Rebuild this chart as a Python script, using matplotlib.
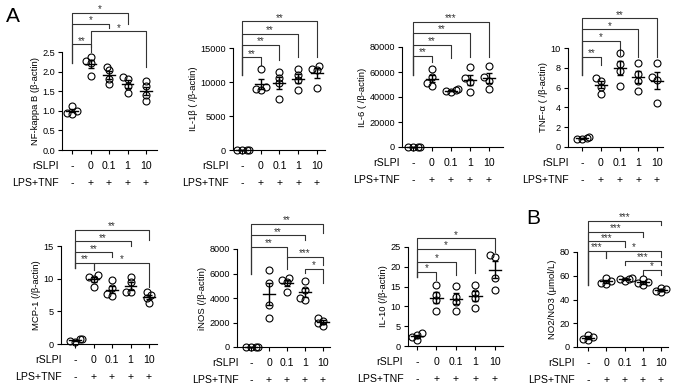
import matplotlib
matplotlib.use("Agg")
import matplotlib.pyplot as plt
import numpy as np

plt.rcParams['font.family'] = ['Liberation Sans', 'DejaVu Sans']

# x categories
rslpi = ['-', '0', '0.1', '1', '10']
lps_tnf = ['-', '+', '+', '+', '+']

# values per group (4 replicates each)
nfkb = [[0.93, 0.95, 1.0, 1.12], [2.37, 2.28, 2.22, 1.88], [2.13, 2.03, 1.82, 1.68],
        [1.86, 1.80, 1.62, 1.45], [1.75, 1.62, 1.41, 1.24]]
il1b = [[0, 0, 0, 0], [11950, 9200, 8800, 8900], [11480, 10650, 9870, 7430],
        [11870, 10990, 10260, 8890], [12400, 11900, 11800, 9100]]
il6 = [[0, 0, 0, 0], [62500, 56400, 51000, 49100], [46500, 45500, 44500, 44000],
       [64000, 55000, 52000, 44000], [65000, 56000, 53000, 46500]]
tnfa = [[0.8, 0.85, 0.9, 1.0], [7.0, 6.7, 6.1, 5.4], [9.5, 8.4, 7.7, 6.2],
        [8.5, 7.4, 6.7, 5.7], [8.5, 7.1, 6.8, 4.4]]
mcp1 = [[0.3, 0.5, 0.7, 0.8], [10.6, 10.2, 10.0, 8.8], [9.8, 8.6, 7.6, 7.3],
        [10.3, 9.5, 8.0, 7.9], [8.0, 7.5, 7.0, 6.3]]
inos = [[0, 0, 0, 0], [6250, 5200, 3450, 2400], [5650, 5450, 5300, 4500],
        [5400, 4650, 4000, 3850], [2350, 2150, 1950, 1700]]
il10 = [[3.3, 2.8, 2.2, 1.5], [15.4, 13.0, 11.6, 8.9], [15.2, 12.5, 11.2, 8.8],
        [15.4, 13.3, 12.0, 9.5], [23.0, 22.6, 17.1, 14.2]]
no2no3 = [[10.5, 8.5, 7.0, 6.0], [58.5, 55.5, 54.0, 53.0], [58.5, 57.5, 57.0, 56.0],
          [57.0, 55.0, 54.0, 52.0], [50.0, 48.5, 47.5, 46.0]]

# significance comparisons (group i, group j, stars)
nfkb_sig = [(0, 3, '*'), (0, 2, '*'), (1, 4, '*'), (0, 1, '**')]
il1b_sig = [(0, 4, '**'), (0, 3, '**'), (0, 2, '**'), (0, 1, '**')]
il6_sig = [(0, 4, '***'), (0, 3, '**'), (0, 2, '**'), (0, 1, '**')]
tnfa_sig = [(0, 4, '**'), (0, 3, '*'), (0, 2, '*'), (0, 1, '**')]
mcp1_sig = [(0, 4, '**'), (0, 3, '**'), (0, 2, '**'), (0, 1, '**'), (1, 4, '*')]
inos_sig = [(0, 4, '**'), (0, 3, '**'), (0, 2, '**'), (2, 4, '***'), (3, 4, '*')]
il10_sig = [(0, 4, '*'), (0, 3, '*'), (0, 2, '*'), (0, 1, '*')]
no_sig = [(0, 4, '***'), (0, 3, '***'), (0, 2, '***'), (0, 1, '***'),
          (1, 4, '*'), (2, 4, '***'), (3, 4, '*')]

W, H = 676, 387
fig = plt.figure(figsize=(W / 100, H / 100), dpi=100)

# panel layout: data, sig, ylabel, yticks, fmt, box (px: left, right, top, bottom), xlim, bracket geometry
panels = [
    (nfkb, nfkb_sig, 'NF-kappa B (β-actin)', [0, 0.5, 1.0, 1.5, 2.0, 2.5], '{:.1f}',
     (62, 157, 52, 150), (-0.54, 4.59),
     [(1.40, 0.89, 1.29), (1.29, 0.89, 1.24), (1.21, 1.05, 0.85), (1.08, 0.89, 1.00)]),
    (il1b, il1b_sig, 'IL-1β ( /β-actin)', [0, 5000, 10000, 15000], '{:.0f}',
     (233, 325, 48, 150), (-0.48, 4.43),
     [(1.26, 0.735, 0.915), (1.14, 0.735, 0.915), (1.03, 0.735, 0.88), (0.91, 0.735, 0.83)]),
    (il6, il6_sig, 'IL-6 ( /β-actin)', [0, 20000, 40000, 60000, 80000], '{:.0f}',
     (402, 503, 47, 147), (-0.58, 4.74),
     [(1.25, 0.72, 0.9), (1.14, 0.72, 0.9), (1.02, 0.72, 0.89), (0.91, 0.72, 0.85)]),
    (tnfa, tnfa_sig, 'TNF-α ( /β-actin)', [0, 2, 4, 6, 8, 10], '{:.0f}',
     (568, 663, 48, 147), (-0.75, 4.32),
     [(1.30, 0.73, 0.91), (1.19, 0.73, 0.91), (1.07, 0.73, 0.93), (0.91, 0.73, 0.83)]),
    (mcp1, mcp1_sig, 'MCP-1 (/β-actin)', [0, 5, 10, 15], '{:.0f}',
     (61, 157, 246, 344), (-0.76, 4.43),
     [(1.163, 0.78, 1.06), (1.05, 0.78, 1.0), (0.936, 0.78, 0.885), (0.83, 0.78, 0.755),
      (0.83, 0.755, 0.585)]),
    (inos, inos_sig, 'iNOS (/β-actin)', [0, 2000, 4000, 6000, 8000], '{:.0f}',
     (237, 330, 249, 347), (-0.78, 4.39),
     [(1.26, 0.75, 1.16), (1.14, 0.75, 1.09), (1.02, 0.75, 0.905), (0.92, 0.80, 0.84),
      (0.80, 0.76, 0.65)]),
    (il10, il10_sig, 'IL-10 (/β-actin)', [0, 5, 10, 15, 20, 25], '{:.0f}',
     (408, 503, 247, 346), (-0.46, 4.41),
     [(1.09, 0.70, 0.95), (0.98, 0.70, 0.74), (0.85, 0.70, 0.72), (0.75, 0.70, 0.67)]),
    (no2no3, no_sig, 'NO2/NO3 (μmol/L)', [0, 20, 40, 60, 80], '{:.0f}',
     (577, 668, 252, 347), (-0.60, 4.38),
     [(1.33, 0.65, 1.28), (1.21, 0.65, 1.16), (1.115, 0.65, 1.056), (1.01, 0.65, 0.94),
      (1.01, 0.94, 0.95), (0.91, 0.86, 0.86), (0.81, 0.76, 0.76)]),
]

LW = 0.8
FS_ROW = 7.6
for data, sig, ylab, yticks, fmt, box, xlim, geom in panels:
    l, r, t, b = box
    ax = fig.add_axes([l / W, 1 - b / H, (r - l) / W, (b - t) / H])
    ax.set_xlim(*xlim)
    ax.set_ylim(0, yticks[-1])
    for s in ['top', 'right']:
        ax.spines[s].set_visible(False)
    ax.spines['left'].set_linewidth(LW)
    ax.spines['bottom'].set_linewidth(LW)
    ax.set_yticks(yticks)
    ax.set_yticklabels([fmt.format(v) for v in yticks], fontsize=6.6)
    ax.set_xticks(range(len(rslpi)))
    ax.set_xticklabels([])
    ax.tick_params(width=LW, length=3, pad=2)
    ax.set_ylabel(ylab, fontsize=6.8, labelpad=2)

    # px per data unit, for spreading overlapping points
    xpx = (r - l) / (xlim[1] - xlim[0])
    ypx = (b - t) / yticks[-1]
    for i, vals in enumerate(data):
        vals = np.array(vals, dtype=float)
        order = np.argsort(vals)
        placed = []
        xs = np.zeros(len(vals))
        for k in order:
            for off in [0, -0.13, 0.13, -0.26, 0.26, -0.39, 0.39]:
                ok = all(np.hypot((off - po) * xpx, (vals[k] - pv) * ypx) >= 4.6
                         for po, pv in placed)
                if ok:
                    break
            placed.append((off, vals[k]))
            xs[k] = i + off
        ax.plot(xs, vals, 'o', ms=5, mfc='none', mec='black', mew=0.8,
                clip_on=False, zorder=3)
        m = vals.mean()
        se = vals.std(ddof=1) / np.sqrt(len(vals))
        ax.plot([i - 0.32, i + 0.32], [m, m], color='black', lw=1.0, zorder=4, clip_on=False)
        ax.errorbar([i], [m], yerr=[se], fmt='none', ecolor='black', elinewidth=1.0,
                    capsize=2.2, capthick=1.0, zorder=4, clip_on=False)

    # x category rows
    for i in range(len(rslpi)):
        ax.annotate(rslpi[i], xy=(i, 0), xycoords=('data', 'axes fraction'),
                    xytext=(0, -11.5), textcoords='offset points',
                    ha='center', va='center', fontsize=FS_ROW)
        ax.annotate(lps_tnf[i], xy=(i, 0), xycoords=('data', 'axes fraction'),
                    xytext=(0, -23.5), textcoords='offset points',
                    ha='center', va='center', fontsize=FS_ROW)
    ax.annotate('rSLPI', xy=(-0.7, 0), xycoords=('data', 'axes fraction'),
                xytext=(0, -11.5), textcoords='offset points',
                ha='right', va='center', fontsize=FS_ROW)
    ax.annotate('LPS+TNF', xy=(-0.7, 0), xycoords=('data', 'axes fraction'),
                xytext=(0, -23.5), textcoords='offset points',
                ha='right', va='center', fontsize=FS_ROW)

    # significance brackets
    tr = ax.get_xaxis_transform()
    for (i, j, stars), (lev, lb, rb) in zip(sig, geom):
        ax.plot([i, i, j, j], [lb, lev, lev, rb], color='#333333', lw=LW,
                transform=tr, clip_on=False)
        ax.text((i + j) / 2, lev + 0.005, stars, transform=tr, ha='center',
                va='baseline', fontsize=7, color='#333333')

fig.text(13 / W, 1 - 17 / H, 'A', fontsize=15, ha='center', va='center')
fig.text(533 / W, 1 - 218 / H, 'B', fontsize=15, ha='center', va='center')

fig.savefig('out.png', dpi=100)
